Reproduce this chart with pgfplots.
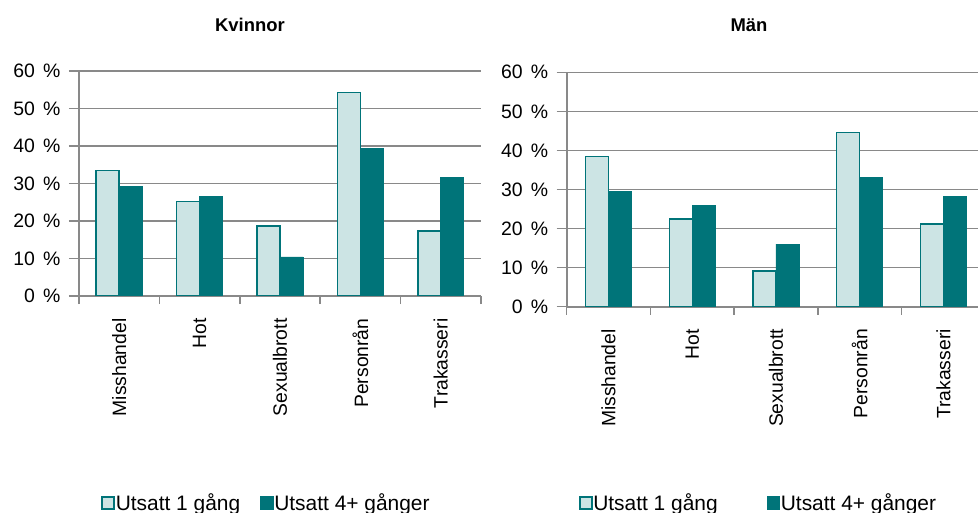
\documentclass[border=0pt]{standalone}
\usepackage{fontspec}
\setmainfont{Liberation Sans}
\usepackage{pgfplots}
\pgfplotsset{compat=1.18}

\definecolor{morkteal}{RGB}{0,116,121}
\definecolor{ljusteal}{RGB}{204,228,228}
\definecolor{rutnat}{RGB}{137,137,137}
\newcommand{\fs}{\fontsize{18.5}{22}\selectfont}
\newcommand{\fx}{\fontsize{19.4}{23}\selectfont}
\newcommand{\fy}{\fontsize{19.5}{23}\selectfont}
\newcommand{\fl}{\fontsize{21}{25}\selectfont}
\newcommand{\pc}[1]{#1\hspace{0.42em}\%}

\pgfplotsset{
  brott/.style={
    scale only axis,
    anchor=south west,
    ybar,
    bar width=23bp,
    ymin=0, ymax=60,
    xmin=-0.5, xmax=4.5,
    ytick={0,10,...,60},
    yticklabels={\pc{0},\pc{10},\pc{20},\pc{30},\pc{40},\pc{50},\pc{60}},
    xtick={0,...,4},
    xticklabels={Misshandel,Hot,Sexualbrott,Personrån,Trakasseri},
    minor xtick={-0.5,0.5,...,4.5},
    major x tick style={draw=none},
    minor x tick style={rutnat, line width=1.5bp},
    ytick style={rutnat, line width=1.5bp},
    tick align=outside,
    major tick length=10bp,
    minor tick length=8bp,
    axis x line*=bottom,
    axis y line*=left,
    axis line style={rutnat, line width=1.8bp, -},
    ymajorgrids,
    major grid style={rutnat, line width=1.5bp},
    x tick label style={font=\fx, rotate=90, anchor=east},
    xticklabel shift=9bp,
    y tick label style={font=\fy, xshift=-5bp},
    legend style={draw=none, fill=none, legend columns=2, font=\fl,
      anchor=center, nodes={inner sep=0.8bp}},
    legend image code/.code={
      \draw[#1, line width=1.5bp] (0.75bp,-6bp) rectangle (12.75bp,6bp);},
  },
  ljus/.style={fill=ljusteal, draw=morkteal, line width=1.5bp, bar shift=-11.5bp},
  mork/.style={fill=morkteal, draw=morkteal, line width=0.8bp, bar shift=11.5bp},
}

\begin{document}
\begin{tikzpicture}
  \path[use as bounding box, clip] (0,0) rectangle (978bp,513bp);

  \node[font=\bfseries\fs] at (250bp,488bp) {Kvinnor};
  \node[font=\bfseries\fs] at (749bp,488bp) {Män};

  % Kvinnor
  \begin{axis}[brott,
    at={(79bp,217bp)}, width=402bp, height=225bp,
    legend style={at={(0.465,-0.92)},
      /tikz/every even column/.append style={column sep=19bp}}]
    \addplot[ljus] coordinates {(0,33.4)(1,25.2)(2,18.7)(3,54.3)(4,17.3)};
    \addplot[mork] coordinates {(0,29.2)(1,26.5)(2,10.4)(3,39.3)(4,31.5)};
    \legend{Utsatt 1 gång, Utsatt 4+ gånger}
  \end{axis}

  % Män
  \begin{axis}[brott,
    at={(566.7bp,206.3bp)}, width=418.5bp, height=234.4bp,
    legend style={at={(0.457,-0.837)},
      /tikz/every even column/.append style={column sep=48bp}}]
    \addplot[ljus] coordinates {(0,38.4)(1,22.5)(2,9.2)(3,44.6)(4,21.2)};
    \addplot[mork] coordinates {(0,29.6)(1,26.0)(2,16.0)(3,33.1)(4,28.3)};
    \legend{Utsatt 1 gång, Utsatt 4+ gånger}
  \end{axis}
\end{tikzpicture}
\end{document}
